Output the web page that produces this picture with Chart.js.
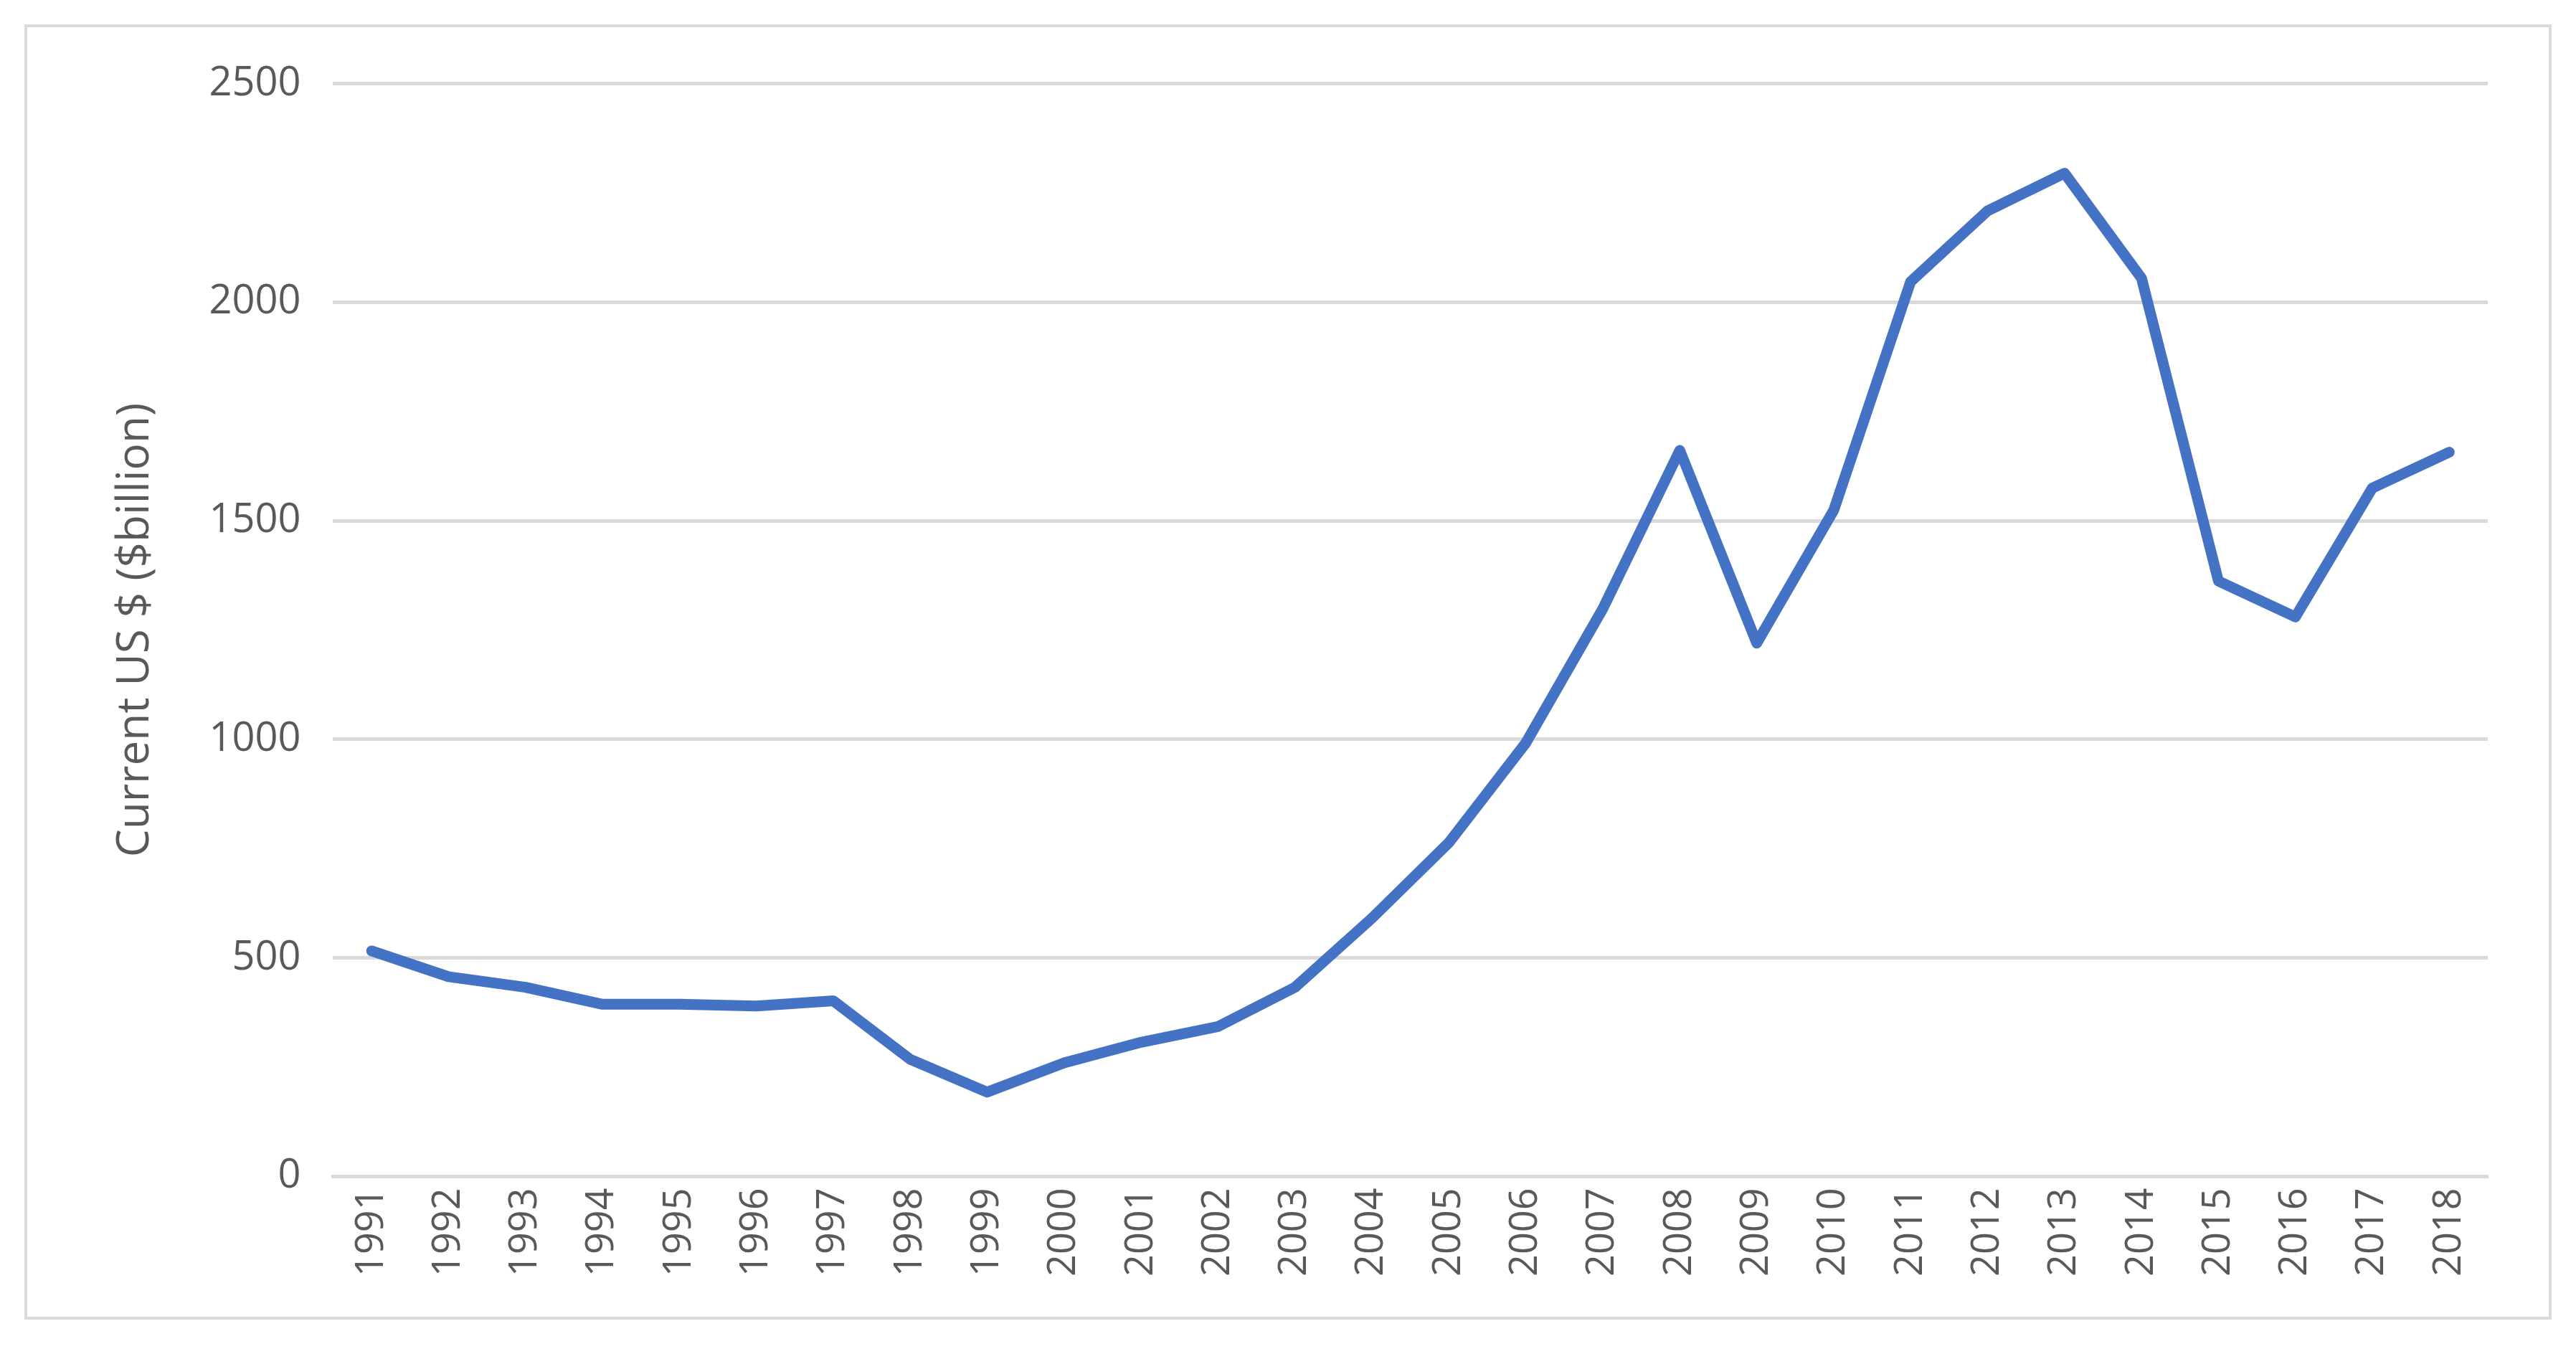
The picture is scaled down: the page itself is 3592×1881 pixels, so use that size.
<!DOCTYPE html>
<html><head><meta charset="utf-8">
<script src="https://cdn.jsdelivr.net/npm/chart.js@4"></script>
<style>
html,body{margin:0;padding:0;background:#fff;}
#wrap{position:absolute;left:34px;top:34px;width:3524px;height:1806px;border:4px solid #d9d9d9;box-sizing:border-box;}
canvas{display:block;}
</style></head><body>
<div id="wrap"><canvas id="c"></canvas></div>
<script>
const years = ["1991","1992","1993","1994","1995","1996","1997","1998","1999","2000","2001","2002","2003","2004","2005","2006","2007","2008","2009","2010","2011","2012","2013","2014","2015","2016","2017","2018"];
const values = [516,457,433,394,394,390,402,268,193,260,307,343,433,591,764,992,1299,1661,1220,1524,2047,2209,2295,2055,1362,1280,1575,1657];
const yTicks = [0,500,1000,1500,2000,2500];
const yTitle = "Current US $ ($billion)";
Chart.defaults.font.family = "'Open Sans', sans-serif";
new Chart(document.getElementById('c'), {
  type: 'line',
  data: { labels: years, datasets: [{ data: values, borderColor: '#4472C4', borderWidth: 15, pointRadius: 0, tension: 0, fill: false, borderCapStyle: 'round', borderJoinStyle: 'round' }] },
  options: {
    responsive: true, maintainAspectRatio: false, animation: false,
    layout: { padding: { left: 110, right: 85, top: 75, bottom: 40 } },
    plugins: { legend: { display: false }, tooltip: { enabled: false } },
    scales: {
      x: { offset: true, grid: { display: false, drawTicks: false }, border: { color: '#d9d9d9', width: 5 },
           ticks: { color: '#595959', font: { size: 54 }, maxRotation: 90, minRotation: 90, padding: 16, autoSkip: false } },
      y: { min: 0, max: 2500, afterBuildTicks: ax => { ax.ticks = yTicks.map(v => ({ value: v })); },
           grid: { color: '#d9d9d9', lineWidth: 5, drawTicks: false }, border: { display: false },
           ticks: { color: '#595959', font: { size: 56 }, padding: 45, callback: v => String(v) },
           title: { display: true, text: yTitle, color: '#595959', font: { size: 62 }, padding: { bottom: 20 } } }
    }
  }
});
</script></body></html>
